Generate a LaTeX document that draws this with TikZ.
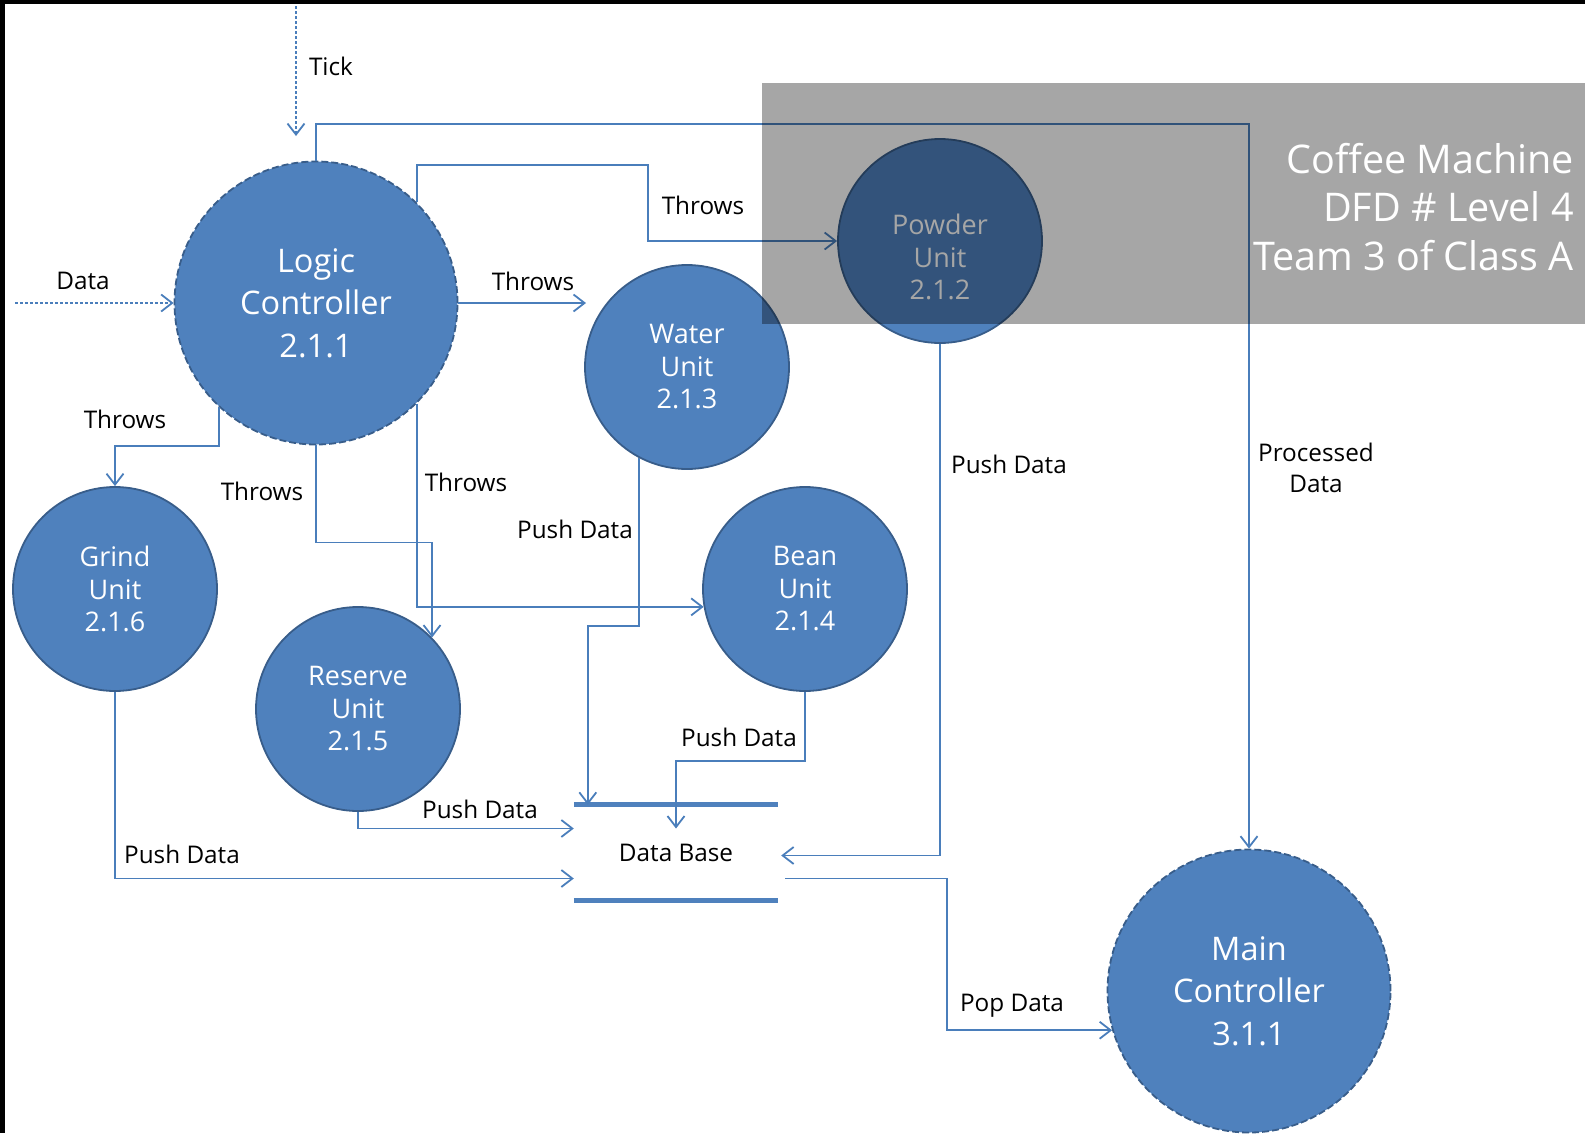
\documentclass[tikz,border=0pt]{standalone}
\usepackage{fontspec}
\setmainfont{Open Sans}
\usetikzlibrary{arrows.meta, calc}
\definecolor{unitBlue}{HTML}{4F81BD}
\definecolor{unitEdge}{HTML}{385D8A}
\definecolor{flowBlue}{HTML}{4A7EBB}
\tikzset{
	unit/.style={circle, draw=unitEdge, line width=1.8pt, fill=unitBlue,
		minimum size=204pt, inner sep=0pt, align=center, text=white,
		font=\fontsize{27}{32.5}\selectfont},
	unittext/.style={align=center, text=white, inner sep=0pt,
		font=\fontsize{27}{32.5}\selectfont},
	ctrl/.style={unit, minimum size=283pt, dash pattern=on 7pt off 3pt,
		font=\fontsize{32.5}{42.5}\selectfont},
	flowarr/.style={-{Straight Barb[length=11pt, width=17pt, line width=1.8pt]},
		line width=1.8pt, draw=flowBlue},
	tickarr/.style={flowarr, line width=1.2pt, dash pattern=on 3pt off 2pt},
	edgelabel/.style={font=\fontsize{24.3}{31}\selectfont, align=center, inner sep=0pt},
	dbbar/.style={line width=5pt, draw=unitBlue},
	titletext/.style={align=right, text=white, inner sep=0pt,
		font=\fontsize{39.5}{48.5}\selectfont}
}

\begin{document}
\begin{tikzpicture}[x=1pt, y=-1pt]
	\useasboundingbox (0,0) rectangle (1585,1133);
	\fill[black] (0,0) rectangle (5,1133);
	\fill[black] (0,0) rectangle (1585,4);
	% processes
	\node[ctrl] (logic) at (316,303) {Logic\\Controller\\2.1.1};
	\node[ctrl] (main) at (1249,991) {Main\\Controller\\3.1.1};
	\node[unit] (water) at (687,367) {Water\\Unit\\2.1.3};
	\node[unit] (powder) at (940,241) {};
	\node[unittext] (powdertxt) at (940,257) {Powder\\Unit\\2.1.2};
	\node[unit] (bean) at (805,589) {Bean\\Unit\\2.1.4};
	\node[unit] (reserve) at (358,709) {Reserve\\Unit\\2.1.5};
	\node[unit] (grind) at (115,589) {Grind\\Unit\\2.1.6};
	% data store
	\node[edgelabel, minimum width=204pt, minimum height=95pt] (db) at (676,852.5) {Data Base};
	\draw[dbbar] (db.north west) -- (db.north east);
	\draw[dbbar] (db.south west) -- (db.south east);
	% free ends
	\coordinate (tickin) at (296,6);
	\coordinate (tickout) at (296,136);
	\coordinate (datain) at (15,303);
	\coordinate (waterin) at (586,303);
	\coordinate (procbend) at (1249,124);
	\coordinate (dbout) at ($(db.east)+(7,26)$);
	% flows
	\draw[tickarr] (tickin) -- (tickout);
	\draw[tickarr] (datain) -- (logic.west);
	\draw[flowarr] (logic.north) |- (procbend) -- (main.north);
	\draw[flowarr] (logic.east) -- (waterin);
	\draw[flowarr] (logic.45) |- (648,165) |- (powder.west);
	\draw[flowarr] (logic.-133) -- ++(0,39) -| (grind.north);
	\draw[flowarr] (logic.south) -- ++(0,97) -| (reserve.44);
	\draw[flowarr] (logic.-45) |- (bean.190);
	\draw[flowarr] (water.-118) -- ++(0,168) -| ($(db.north west)+(14,0)$);
	\draw[flowarr] (bean.south) -- ++(0,69) -| ($(db.center)+(0,-24)$);
	\draw[flowarr] (reserve.south) |- ($(db.west)+(0,-24)$);
	\draw[flowarr] (grind.south) |- ($(db.west)+(0,26)$);
	\draw[flowarr] (powder.south) |- ($(db.east)+(3,3)$);
	\draw[flowarr] (dbout) -- ++(162,0) |- (main.196);
	% labels
	\node[edgelabel] (lbltick) at (331,66) {Tick};
	\node[edgelabel] (lbldata) at (83,281) {Data};
	\node[edgelabel] (lblwater) at (533,281) {Throws};
	\node[edgelabel] (lblpowder) at (703,205) {Throws};
	\node[edgelabel] (lblgrind) at (125,419) {Throws};
	\node[edgelabel] (lblreserve) at (262,491) {Throws};
	\node[edgelabel] (lblbean) at (466,482) {Throws};
	\node[edgelabel] (pushwater) at (575,529) {Push Data};
	\node[edgelabel] (pushbean) at (739,737) {Push Data};
	\node[edgelabel] (pushreserve) at (480,809) {Push Data};
	\node[edgelabel] (pushgrind) at (182,854) {Push Data};
	\node[edgelabel] (pushpowder) at (1009,464) {Push Data};
	\node[edgelabel] (lblproc) at (1316,468) {Processed\\Data};
	\node[edgelabel] (lblpop) at (1012,1006) {Pop Data};
	% title panel
	\fill[black, opacity=0.35] (762,83) rectangle (1585,324);
	\node[titletext, anchor=east] (title) at (1574,207) {Coffee Machine\\DFD \# Level 4\\Team 3 of Class A};
\end{tikzpicture}
\end{document}
